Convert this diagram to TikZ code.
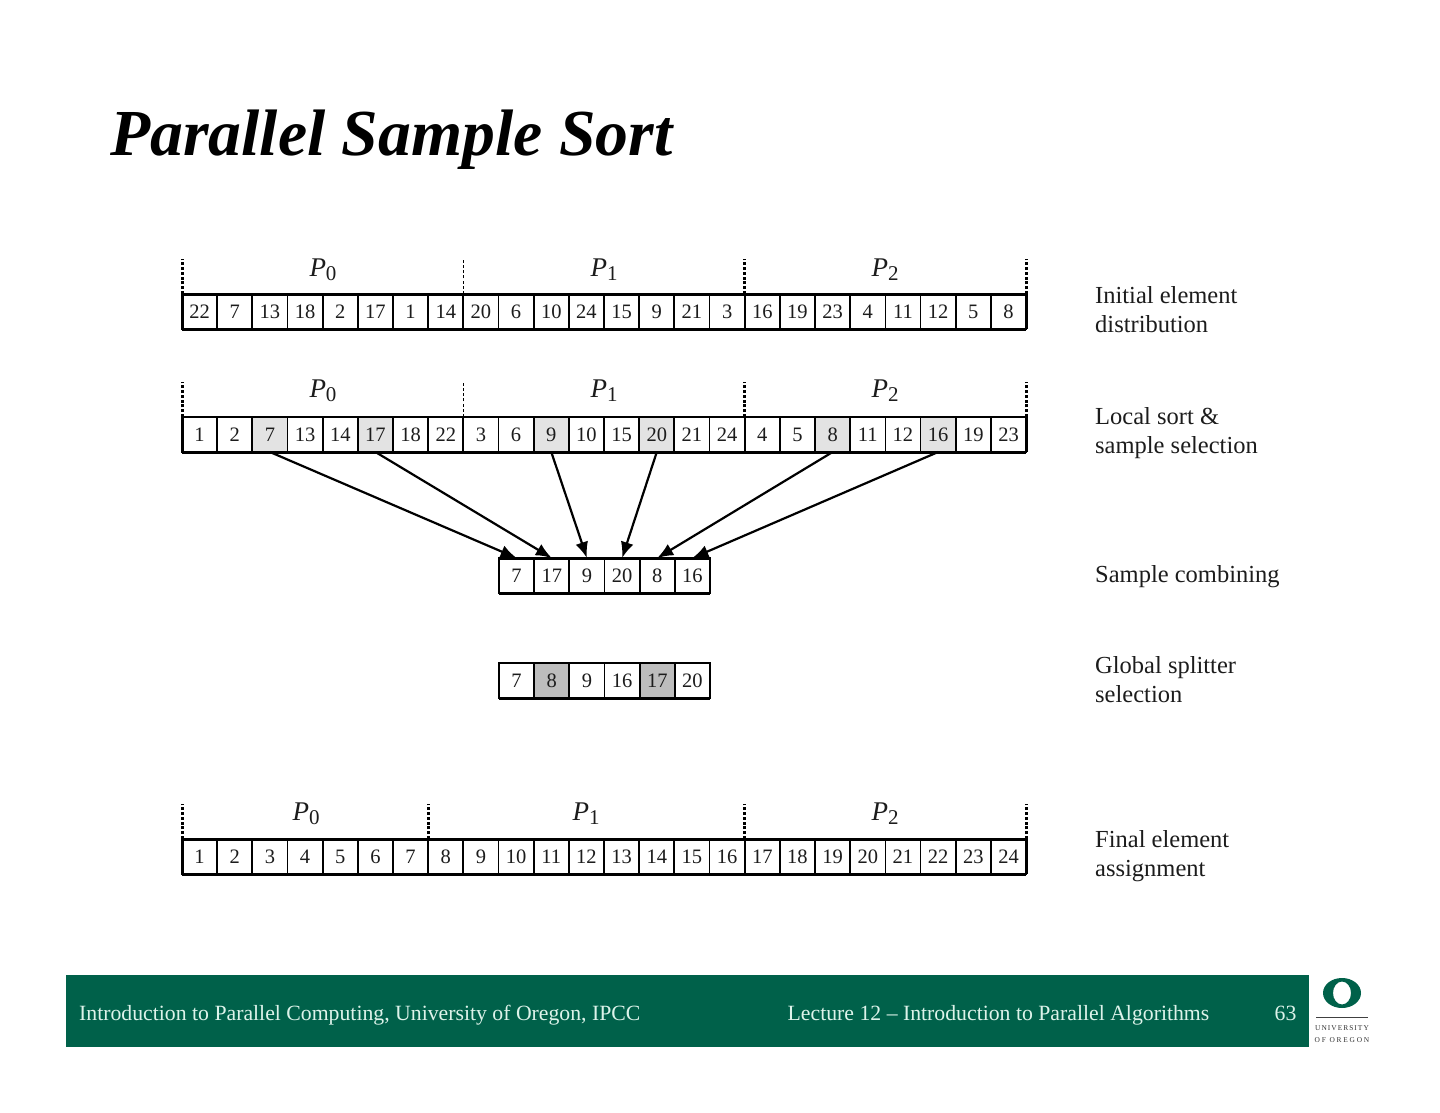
\documentclass[tikz,border=0pt]{standalone}
\usepackage{fontspec}
\setmainfont{Liberation Serif}
\usetikzlibrary{arrows.meta}
\definecolor{uogreen}{HTML}{00614A}
\definecolor{footertxt}{HTML}{DDF3EA}
\definecolor{shadeA}{HTML}{E3E3E3}
\definecolor{shadeB}{HTML}{BDBDBD}
\definecolor{ink}{HTML}{1C1C1C}
\newcommand{\proc}[1]{\textit{P}\raisebox{-4pt}{\fontsize{21}{21}\selectfont #1}}
\tikzset{
  x=1pt,y=-1pt,
  cell/.style={draw=black,line width=1.8pt,minimum width=35.17pt,minimum height=35pt,inner sep=0pt,outer sep=0pt,
    text=ink,font=\fontsize{20.5}{21}\selectfont},
  edge/.style={line width=3pt,black},
  thickdiv/.style={line width=3pt,dash pattern=on 3pt off 1.8pt,black},
  thindiv/.style={line width=1.5pt,dash pattern=on 3pt off 2.2pt,black},
  plabel/.style={font=\fontsize{27}{27}\selectfont,text=ink,inner sep=0pt},
  desc/.style={anchor=west,align=left,inner sep=0pt,text=ink,font=\fontsize{24.5}{29}\selectfont},
  samplearrow/.style={line width=2.2pt,-{Latex[length=16pt,width=13pt]},black},
  foot/.style={anchor=base west,inner sep=0pt,text=footertxt,font=\fontsize{21.75}{22}\selectfont},
}
\begin{document}
\begin{tikzpicture}
\useasboundingbox (0,0) rectangle (1440,1113);
\fill[white] (0,0) rectangle (1440,1113);

% title
\node[anchor=base west,inner sep=0pt,font=\fontsize{65.7}{66}\selectfont\bfseries\itshape,text=black] (title) at (110,155) {Parallel Sample Sort};

% row A
\foreach \v [count=\i] in {22,7,13,18,2,17,1,14,20,6,10,24,15,9,21,3,16,19,23,4,11,12,5,8}
  \node[cell] (a\i) at ({182+35.17*(\i-.5)},311.5) {\v};
\draw[edge] (a1.north west) -- (a24.north east);
\draw[edge] (a1.south west) -- (a24.south east);
\draw[edge] (a1.south west) -- (a1.north west);
\draw[edge] (a24.south east) -- (a24.north east);

% row B
\foreach \v/\f [count=\i] in {1/white,2/white,7/shadeA,13/white,14/white,17/shadeA,18/white,22/white,3/white,6/white,9/shadeA,10/white,15/white,20/shadeA,21/white,24/white,4/white,5/white,8/shadeA,11/white,12/white,16/shadeA,19/white,23/white}
  \node[cell,fill=\f] (b\i) at ({182+35.17*(\i-.5)},434.5) {\v};
\draw[edge] (b1.south west) -- (b24.south east);
\draw[edge] (b1.south west) -- (b1.north west);
\draw[edge] (b24.south east) -- (b24.north east);

% row C
\foreach \v [count=\i] in {7,17,9,20,8,16}
  \node[cell] (c\i) at ({499+35.17*(\i-.5)},575.5) {\v};
\draw[edge] (c1.north west) -- (c6.north east);
\draw[edge] (c1.south west) -- (c6.south east);

% row D
\foreach \v/\f [count=\i] in {7/white,8/shadeB,9/white,16/white,17/shadeB,20/white}
  \node[cell,fill=\f] (d\i) at ({499+35.17*(\i-.5)},680.5) {\v};
\draw[edge] (d1.south west) -- (d6.south east);

% row E
\foreach \v [count=\i] in {1,...,24}
  \node[cell] (e\i) at ({182+35.17*(\i-.5)},856.5) {\v};
\draw[edge] (e1.north west) -- (e24.north east);
\draw[edge] (e1.south west) -- (e24.south east);
\draw[edge] (e1.south west) -- (e1.north west);
\draw[edge] (e24.south east) -- (e24.north east);

% processor dividers
\draw[thickdiv] (a1.north west) -- ++(0,-35);
\draw[thindiv]  (a8.north east) -- ++(0,-35);
\draw[thickdiv] (a16.north east) -- ++(0,-35);
\draw[thickdiv] (a24.north east) -- ++(0,-35);
\draw[thickdiv] (b1.north west) -- ++(0,-35);
\draw[thindiv]  (b8.north east) -- ++(0,-35);
\draw[thickdiv] (b16.north east) -- ++(0,-35);
\draw[thickdiv] (b24.north east) -- ++(0,-35);
\draw[thickdiv] (e1.north west) -- ++(0,-35);
\draw[thickdiv] (e7.north east) -- ++(0,-35);
\draw[thickdiv] (e16.north east) -- ++(0,-35);
\draw[thickdiv] (e24.north east) -- ++(0,-35);

% processor labels
\node[plabel] (pa0) at (323,270) {\proc{0}};
\node[plabel] (pa1) at (604,270) {\proc{1}};
\node[plabel] (pa2) at (885,270) {\proc{2}};
\node[plabel] (pb0) at (323,391) {\proc{0}};
\node[plabel] (pb1) at (604,391) {\proc{1}};
\node[plabel] (pb2) at (885,391) {\proc{2}};
\node[plabel] (pe0) at (306,814) {\proc{0}};
\node[plabel] (pe1) at (586,814) {\proc{1}};
\node[plabel] (pe2) at (885,814) {\proc{2}};

% sample arrows
\draw[samplearrow] (b3.south)  -- (c1.north);
\draw[samplearrow] (b6.south)  -- (c2.north);
\draw[samplearrow] (b11.south) -- (c3.north);
\draw[samplearrow] (b14.south) -- (c4.north);
\draw[samplearrow] (b19.south) -- (c5.north);
\draw[samplearrow] (b22.south) -- (c6.north);

% step descriptions
\node[desc] (la) at (1095,310) {Initial element\\distribution};
\node[desc] (lb) at (1095,433.5) {Local sort \&\\sample selection};
\node[desc] (lc) at (1095,577) {Sample combining};
\node[desc] (ld) at (1095,680) {Global splitter\\selection};
\node[desc] (le) at (1095,856) {Final element\\assignment};

% footer
\fill[uogreen] (66,975) rectangle (1309,1047);
\node[foot] (f1) at (79,1020) {Introduction to Parallel Computing, University of Oregon, IPCC};
\node[foot] (f2) at (787.5,1020) {Lecture 12 – Introduction to Parallel Algorithms};
\node[foot] (f3) at (1274.5,1020) {63};

% University of Oregon logo
\fill[uogreen,even odd rule] (1342,993) ellipse [x radius=19,y radius=15] (1342,993) ellipse [x radius=9,y radius=11.5];
\draw[line width=0.8pt,black!75] (1316,1017) -- (1368,1017);
\node[inner sep=0pt,text=black!80,font=\fontsize{7.4}{7.4}\selectfont] (u1) at (1342,1028) {\addfontfeature{LetterSpace=14}UNIVERSITY};
\node[inner sep=0pt,text=black!80,font=\fontsize{7.4}{7.4}\selectfont] (u2) at (1342,1040) {\addfontfeature{LetterSpace=24}OF OREGON};
\end{tikzpicture}
\end{document}
